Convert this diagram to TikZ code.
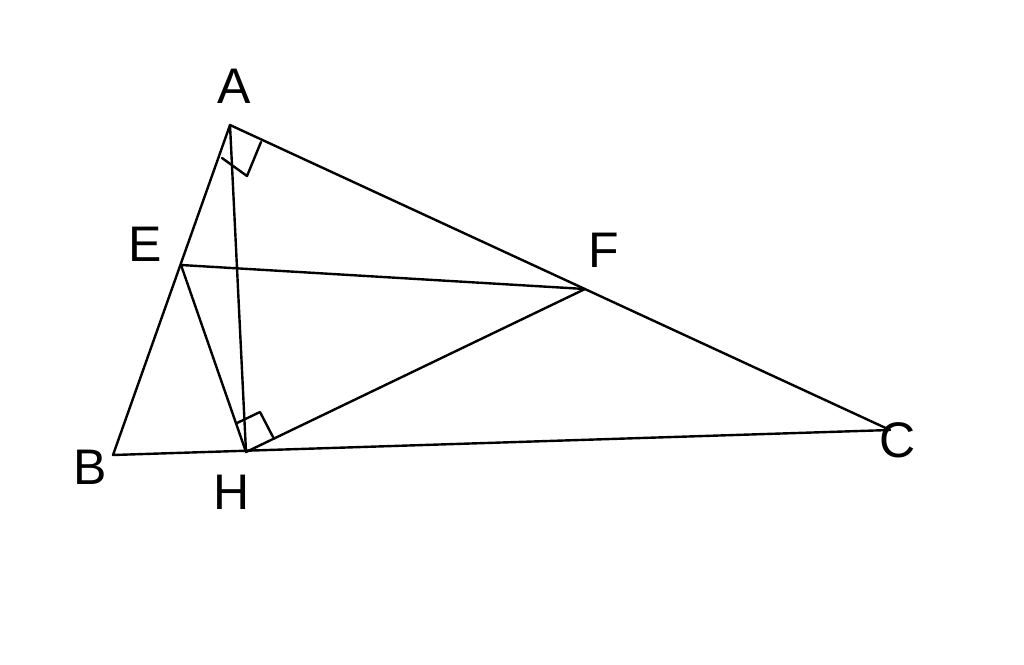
\documentclass[tikz,border=0pt]{standalone}
\usepackage{fontspec}
\setmainfont{Liberation Sans}
\begin{document}
\begin{tikzpicture}[x=1pt,y=-1pt,
  seg/.style={line width=2.4pt, line cap=round, line join=round},
  lbl/.style={font=\fontsize{50}{60}\selectfont, inner sep=0pt}]
\useasboundingbox[fill=white] (0,0) rectangle (1024,664);
\coordinate (A) at (230,125);
\coordinate (B) at (113,455);
\coordinate (C) at (890,430);
\coordinate (H) at (246,452);
\coordinate (E) at (181,265);
\coordinate (F) at (585,289);
\draw[seg] (A) -- (B) -- (C) -- cycle;
\draw[seg] (A) -- (H);
\draw[seg] (E) -- (F);
\draw[seg] (E) -- (H) -- (F);
% right angle marks
\coordinate (a1) at (222,158);
\coordinate (a2) at (247,176);
\coordinate (a3) at (261,142);
\draw[seg] (a1) -- (a2) -- (a3);
\coordinate (h1) at (237,423);
\coordinate (h2) at (260,412);
\coordinate (h3) at (273,437);
\draw[seg] (h1) -- (h2) -- (h3);
\node[lbl] (lA) at (234,86) {A};
\node[lbl] (lF) at (604,250) {F};
\node[lbl] (lE) at (145,244) {E};
\node[lbl] (lB) at (90,467) {B};
\node[lbl] (lH) at (232,492) {H};
\node[lbl] (lC) at (898,440) {C};
\end{tikzpicture}
\end{document}
